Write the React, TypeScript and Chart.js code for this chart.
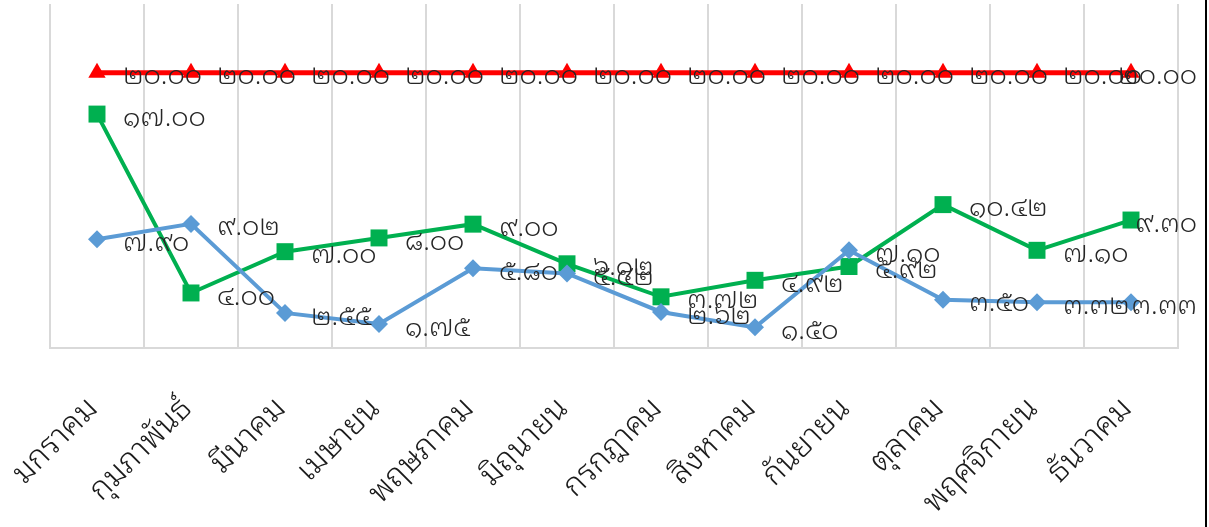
import React, { useEffect, useRef } from "react";
import { Chart, registerables } from "chart.js";

Chart.register(...registerables);

const months = [
  "มกราคม",
  "กุมภาพันธ์",
  "มีนาคม",
  "เมษายน",
  "พฤษภาคม",
  "มิถุนายน",
  "กรกฎาคม",
  "สิงหาคม",
  "กันยายน",
  "ตุลาคม",
  "พฤศจิกายน",
  "ธันวาคม",
];

const targetValues = [20, 20, 20, 20, 20, 20, 20, 20, 20, 20, 20, 20];
const greenValues = [17.0, 4.0, 7.0, 8.0, 9.0, 6.12, 3.72, 4.92, 5.92, 10.42, 7.1, 9.3];
const blueValues = [7.9, 9.02, 2.55, 1.75, 5.8, 5.42, 2.62, 1.5, 7.1, 3.5, 3.32, 3.33];

const FONT =
  "'Noto Sans Thai Looped', 'Noto Serif Thai', Loma, Waree, Garuda, Tahoma, 'Noto Sans Thai', 'Noto Sans', sans-serif";

function toThaiDigits(n: number): string {
  return n
    .toFixed(2)
    .replace(/[0-9]/g, (d) => String.fromCharCode(0x0e50 + Number(d)));
}

const labelPlugin = {
  id: "thaiLabels",
  afterDatasetsDraw(chart: any) {
    const ctx = chart.ctx;
    const maxRight = chart.width - 12;
    ctx.save();
    ctx.font = `300 27px ${FONT}`;
    ctx.fillStyle = "#262626";
    ctx.textAlign = "left";
    ctx.textBaseline = "middle";
    chart.data.datasets.forEach((ds: any, i: number) => {
      const meta = chart.getDatasetMeta(i);
      meta.data.forEach((pt: any, j: number) => {
        const text = toThaiDigits(ds.data[j]);
        const w = ctx.measureText(text).width;
        let x = pt.x + 26;
        if (x + w > maxRight) x = maxRight - w;
        ctx.fillText(text, x, pt.y + 4);
      });
    });
    ctx.restore();
  },
};

export default function App() {
  const ref = useRef<HTMLCanvasElement>(null);

  useEffect(() => {
    if (!ref.current) return;
    const chart = new Chart(ref.current, {
      type: "line",
      data: {
        labels: months,
        datasets: [
          {
            label: "blue",
            data: blueValues,
            borderColor: "#5B9BD5",
            backgroundColor: "#5B9BD5",
            borderWidth: 4,
            pointStyle: "rectRot",
            pointRadius: 9,
            pointBorderWidth: 0,
            tension: 0,
          },
          {
            label: "green",
            data: greenValues,
            borderColor: "#00B050",
            backgroundColor: "#00B050",
            borderWidth: 4,
            pointStyle: "rect",
            pointRadius: 12,
            pointBorderWidth: 0,
            tension: 0,
          },
          {
            label: "target",
            data: targetValues,
            borderColor: "#FF0000",
            backgroundColor: "#FF0000",
            borderWidth: 5,
            pointStyle: "triangle",
            pointRadius: 10,
            pointBorderWidth: 0,
            tension: 0,
          },
        ],
      },
      options: {
        animation: false,
        responsive: false,
        maintainAspectRatio: false,
        layout: { autoPadding: false, padding: { left: 50, right: 31, top: 4, bottom: 0 } },
        plugins: {
          legend: { display: false },
          tooltip: { enabled: false },
        },
        scales: {
          x: {
            offset: true,
            grid: {
              display: true,
              color: "#d9d9d9",
              lineWidth: 2,
              offset: true,
              drawTicks: false,
            },
            border: { display: true, color: "#d9d9d9", width: 2 },
            ticks: {
              minRotation: 45,
              maxRotation: 45,
              autoSkip: false,
              padding: 42,
              labelOffset: -4,
              color: "#1a1a1a",
              font: { family: FONT, size: 32, weight: "300" },
            },
            afterFit(scale: any) {
              scale.height = 179;
              scale.paddingLeft = 0;
              scale.paddingRight = 0;
            },
          },
          y: {
            display: false,
            min: 0,
            max: 25,
          },
        },
      },
      plugins: [labelPlugin],
    });
    return () => chart.destroy();
  }, []);

  return (
    <div style={{ position: "absolute", left: 0, top: 0, width: 1209, height: 527, background: "#fff" }}>
      <canvas ref={ref} width={1209} height={527} style={{ display: "block" }} />
      <div
        style={{
          position: "absolute",
          left: 1205,
          top: 0,
          width: 2,
          height: 527,
          background: "#000",
        }}
      />
    </div>
  );
}
